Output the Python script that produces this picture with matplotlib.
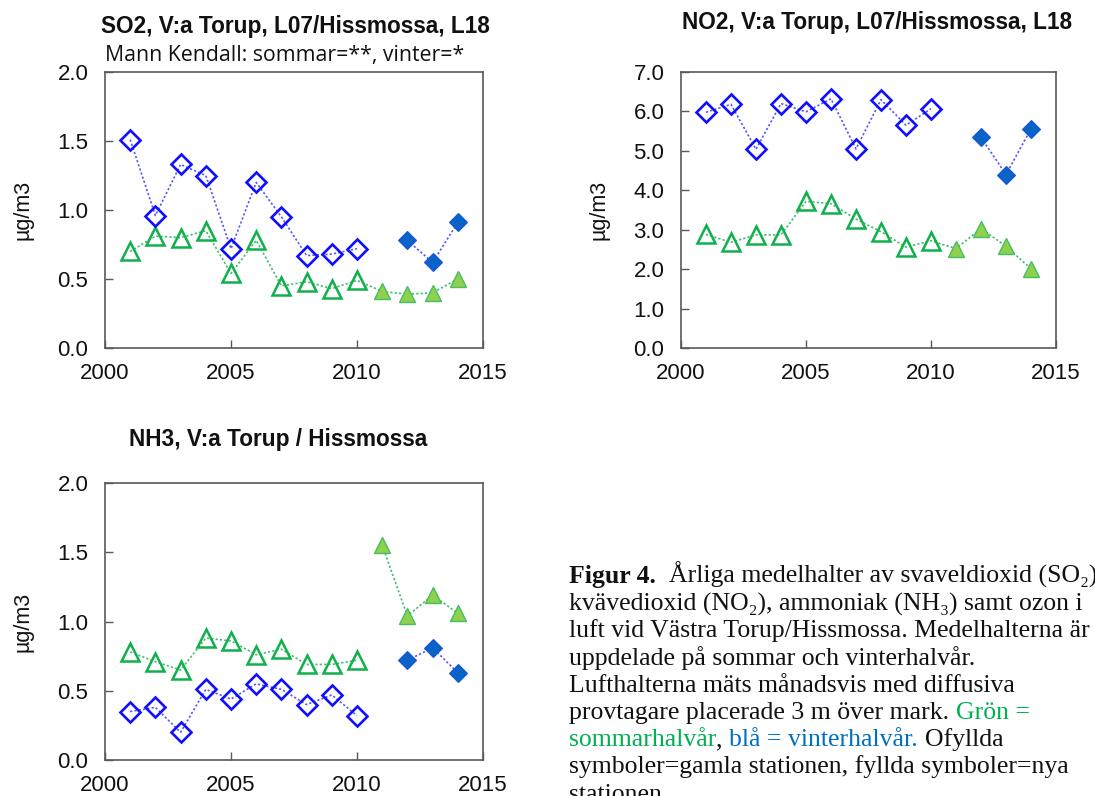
import numpy as np
import matplotlib
matplotlib.use("Agg")
import matplotlib.pyplot as plt
from matplotlib.ticker import FormatStrFormatter, MultipleLocator

# ---------------------------------------------------------------- data
years_old = [2001, 2002, 2003, 2004, 2005, 2006, 2007, 2008, 2009, 2010]
years_winter_new = [2012, 2013, 2014]
years_summer_new = [2011, 2012, 2013, 2014]

so2_winter_old = [1.51, 0.96, 1.33, 1.25, 0.72, 1.20, 0.95, 0.67, 0.68, 0.72]
so2_winter_new = [0.78, 0.62, 0.91]
so2_summer_old = [0.70, 0.81, 0.80, 0.85, 0.54, 0.78, 0.45, 0.48, 0.43, 0.49]
so2_summer_new = [0.41, 0.39, 0.40, 0.50]

no2_winter_old = [5.98, 6.18, 5.04, 6.20, 5.99, 6.32, 5.05, 6.30, 5.65, 6.07]
no2_winter_new = [5.34, 4.40, 5.56]
no2_summer_old = [2.88, 2.68, 2.87, 2.87, 3.72, 3.66, 3.27, 2.95, 2.56, 2.72]
no2_summer_new = [2.52, 3.03, 2.58, 2.01]

nh3_winter_old = [0.35, 0.38, 0.20, 0.51, 0.44, 0.55, 0.51, 0.40, 0.47, 0.32]
nh3_winter_new = [0.72, 0.81, 0.63]
nh3_summer_old = [0.78, 0.71, 0.65, 0.88, 0.86, 0.76, 0.80, 0.69, 0.69, 0.72]
nh3_summer_new = [1.55, 1.04, 1.19, 1.06]

x_ticks = [2000, 2005, 2010, 2015]

# ---------------------------------------------------------------- style
SANS = ["Liberation Sans", "DejaVu Sans"]
SERIF = ["Liberation Serif", "DejaVu Serif"]
plt.rcParams["font.family"] = SANS

BLUE_OPEN = "#1010FF"
BLUE_FILL = "#0A64C8"
BLUE_FILL_EDGE = "#1A55D8"
BLUE_LINE = "#5555FF"
GREEN_OPEN = "#10B04C"
GREEN_FILL = "#8FD14F"
GREEN_FILL_EDGE = "#45BE5E"
GREEN_LINE = "#3DBE6A"
AXIS_GREY = "#595959"
DOTS = (0, (1.3, 1.3))

W, H = 1095, 796
fig = plt.figure(figsize=(W / 100, H / 100), dpi=100)
fig.patch.set_facecolor("white")


def axes_px(left, top, right, bottom):
    return fig.add_axes([left / W, 1 - bottom / H, (right - left) / W, (bottom - top) / H])


def draw_panel(ax, w_old, w_new, s_old, s_new, join_summer, ymax, ystep):
    # winter half-year: old station (open) and new station (filled)
    ax.plot(years_old, w_old, ls=DOTS, lw=1.2, color=BLUE_LINE, zorder=2)
    ax.plot(years_winter_new, w_new, ls=DOTS, lw=1.2, color=BLUE_LINE, zorder=2)
    # summer half-year
    if join_summer:
        ax.plot(years_old + years_summer_new, s_old + s_new, ls=DOTS, lw=1.2,
                color=GREEN_LINE, zorder=2)
    else:
        ax.plot(years_old, s_old, ls=DOTS, lw=1.2, color=GREEN_LINE, zorder=2)
        ax.plot(years_summer_new, s_new, ls=DOTS, lw=1.2, color=GREEN_LINE, zorder=2)

    ax.plot(years_old, s_old, ls="none", marker="^", ms=12.5, mfc="none",
            mec=GREEN_OPEN, mew=1.8, zorder=3)
    ax.plot(years_summer_new, s_new, ls="none", marker="^", ms=11.5, mfc=GREEN_FILL,
            mec=GREEN_FILL_EDGE, mew=1.0, zorder=3)
    ax.plot(years_old, w_old, ls="none", marker="D", ms=9.8, mfc="none",
            mec=BLUE_OPEN, mew=1.9, zorder=4)
    ax.plot(years_winter_new, w_new, ls="none", marker="D", ms=8.8, mfc=BLUE_FILL,
            mec=BLUE_FILL_EDGE, mew=0.8, zorder=4)

    ax.set_xlim(2000, 2015)
    ax.set_ylim(0, ymax)
    ax.set_xticks(x_ticks)
    ax.yaxis.set_major_locator(MultipleLocator(ystep))
    ax.yaxis.set_major_formatter(FormatStrFormatter("%.1f"))
    ax.tick_params(direction="in", length=6, width=1, color=AXIS_GREY,
                   labelsize=16, labelcolor="#111111")
    ax.tick_params(axis="x", pad=11)
    ax.tick_params(axis="y", pad=12)
    for sp in ax.spines.values():
        sp.set_color(AXIS_GREY)
        sp.set_linewidth(1.2)
    ax.set_ylabel("µg/m3", fontsize=15.5, color="#111111")
    ax.yaxis.set_label_coords(-0.19, 0.5)


ax_so2 = axes_px(105, 72, 483, 348)
draw_panel(ax_so2, so2_winter_old, so2_winter_new, so2_summer_old, so2_summer_new,
           True, 2.0, 0.5)

ax_no2 = axes_px(681, 72, 1056, 348)
draw_panel(ax_no2, no2_winter_old, no2_winter_new, no2_summer_old, no2_summer_new,
           True, 7.0, 1.0)

ax_nh3 = axes_px(105, 483, 483, 760)
draw_panel(ax_nh3, nh3_winter_old, nh3_winter_new, nh3_summer_old, nh3_summer_new,
           False, 2.0, 0.5)

# panel titles
title_kw = dict(fontsize=16.3, weight="bold", ha="center", va="center", color="#111111")
fig.text(295 / W, 1 - 26 / H, "SO2, V:a Torup, L07/Hissmossa, L18", **title_kw)
fig.text(105 / W, 1 - 56 / H, "Mann Kendall: sommar=**, vinter=*", fontsize=15.3,
         family=["Open Sans", "DejaVu Sans"], ha="left", va="center", color="#111111")
fig.text(877 / W, 1 - 23 / H, "NO2, V:a Torup, L07/Hissmossa, L18", **title_kw)
fig.text(278 / W, 1 - 440 / H, "NH3, V:a Torup / Hissmossa", **title_kw)

# ---------------------------------------------------------------- caption
CAP_SIZE = 18.5
BLACK = "#111111"
GREEN_TXT = "#00B050"
BLUE_TXT = "#0070C0"

fig.canvas.draw()
renderer = fig.canvas.get_renderer()


def text_width(s, weight="normal"):
    t = fig.text(0, 0, s, fontsize=CAP_SIZE, family=SERIF, weight=weight)
    w = t.get_window_extent(renderer).width
    t.remove()
    return w


space_w = text_width("x x") - text_width("xx")

caption_lines = [
    [("Figur 4.", BLACK, "bold", 0), ("Årliga medelhalter av svaveldioxid (SO₂),", BLACK, "normal", 2)],
    [("kvävedioxid (NO₂), ammoniak (NH₃) samt ozon i", BLACK, "normal", 0)],
    [("luft vid Västra Torup/Hissmossa. Medelhalterna är", BLACK, "normal", 0)],
    [("uppdelade på sommar och vinterhalvår.", BLACK, "normal", 0)],
    [("Lufthalterna mäts månadsvis med diffusiva", BLACK, "normal", 0)],
    [("provtagare placerade 3 m över mark.", BLACK, "normal", 0), ("Grön =", GREEN_TXT, "normal", 1)],
    [("sommarhalvår", GREEN_TXT, "normal", 0), (",", BLACK, "normal", 0),
     ("blå = vinterhalvår.", BLUE_TXT, "normal", 1), ("Ofyllda", BLACK, "normal", 1)],
    [("symboler=gamla stationen, fyllda symboler=nya", BLACK, "normal", 0)],
    [("stationen.", BLACK, "normal", 0)],
]

x_start = 569
baseline0 = 583
line_step = 27.2
for i, runs in enumerate(caption_lines):
    x = x_start
    y = baseline0 + i * line_step
    for s, col, wt, gap in runs:
        x += gap * space_w
        t = fig.text(x / W, 1 - y / H, s, fontsize=CAP_SIZE, family=SERIF, weight=wt,
                     color=col, ha="left", va="baseline")
        x += t.get_window_extent(renderer).width

fig.savefig("out.png", dpi=100, facecolor="white")
